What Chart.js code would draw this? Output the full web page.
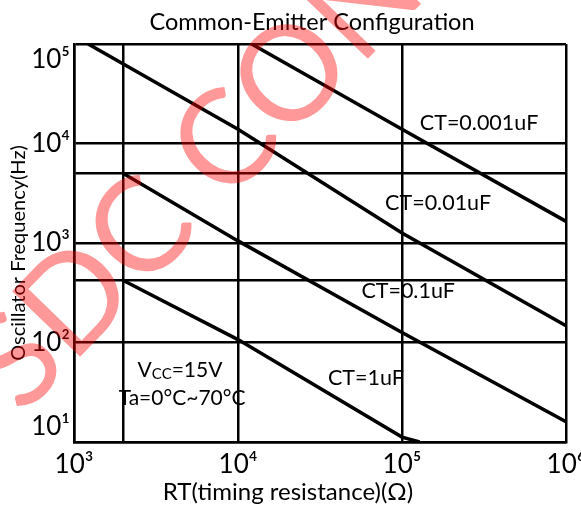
<!DOCTYPE html>
<html><head><meta charset="utf-8">
<script src="https://cdn.jsdelivr.net/npm/chart.js@4.4.1/dist/chart.umd.min.js"></script>
<style>html,body{margin:0;padding:0;background:#fff;}#wrap{width:581px;height:507px;}</style>
</head><body><div id="wrap"><canvas id="c" width="581" height="507"></canvas></div>
<script>
// ---- data ----
const chartTitle = 'Common-Emitter Configuration';
const xTitle = 'RT(timing resistance)(Ω)';
const yTitle = 'Oscillator Frequency(Hz)';
const xGridValues = [1000, 2000, 10000, 100000, 1000000];
const yGridValues = [10, 100, 420, 1000, 5000, 10000, 100000];
const xTickLabels = {1000: '10³', 10000: '10⁴', 100000: '10⁵', 1000000: '10⁶'};
const yTickLabels = {10: '10¹', 100: '10²', 1000: '10³', 10000: '10⁴', 100000: '10⁵'};
const seriesNames = ['CT=0.001uF', 'CT=0.01uF', 'CT=0.1uF', 'CT=1uF'];
const ct0001RT = [12100, 100000, 1000000];
const ct0001F  = [100000, 13900, 1650];
const ct001RT  = [1220, 10000, 100000, 1000000];
const ct001F   = [100000, 13900, 1260, 147];
const ct01RT   = [2000, 10000, 100000, 1000000];
const ct01F    = [5000, 1050, 126, 16];
const ct1RT    = [2000, 10000, 100000, 128000];
const ct1F     = [420, 107, 11.2, 10];
const condVcc = ['V', 'CC', '=15V'];
const condTa = 'Ta=0°C~70°C';
const watermark = 'SDC CONFIDENTIAL';

const seriesRT = [ct0001RT, ct001RT, ct01RT, ct1RT];
const seriesF = [ct0001F, ct001F, ct01F, ct1F];

const FONT = 'Lato, "Noto Sans", "DejaVu Sans", sans-serif';

// label anchors (data coordinates)
const labelAnchors = [
  {i: 0, x: 2.95e5, y: 16070},
  {i: 1, x: 1.66e5, y: 2520},
  {i: 2, x: 1.09e5, y: 330},
  {i: 3, x: 6.03e4, y: 44}
];
const condAnchor = {x: 4430, y: 53};
const taAnchor = {x: 4560, y: 27.7};

const datasets = seriesNames.map((name, k) => ({
  label: name,
  data: seriesRT[k].map((x, j) => ({x: x, y: seriesF[k][j]})),
  borderColor: '#000',
  borderWidth: 3.5,
  pointRadius: 0,
  tension: 0,
  fill: false
}));

const textPlugin = {
  id: 'texts',
  afterDraw(chart) {
    const c = chart.ctx;
    const xs = chart.scales.x, ys = chart.scales.y;
    c.save();
    c.fillStyle = '#000';
    c.textAlign = 'center';
    c.textBaseline = 'middle';
    c.font = '23.5px ' + FONT;
    c.fillText(chartTitle, 312, 22);
    c.font = '24px ' + FONT;
    c.fillText(xTitle, 288, 492);
    c.save();
    c.translate(19, 253);
    c.rotate(-Math.PI / 2);
    c.font = '20px ' + FONT;
    c.fillText(yTitle, 0, 0);
    c.restore();
    c.font = '21.5px ' + FONT;
    labelAnchors.forEach(a => {
      c.fillText(seriesNames[a.i], xs.getPixelForValue(a.x), ys.getPixelForValue(a.y));
    });
    // Vcc with subscript
    const big = '21px ' + FONT, small = '15px ' + FONT;
    c.font = big; const w1 = c.measureText(condVcc[0]).width; const w3 = c.measureText(condVcc[2]).width;
    c.font = small; const w2 = c.measureText(condVcc[1]).width;
    const cx = xs.getPixelForValue(condAnchor.x), cy = ys.getPixelForValue(condAnchor.y);
    let x0 = cx - (w1 + w2 + w3) / 2;
    c.textAlign = 'left';
    c.font = big; c.fillText(condVcc[0], x0, cy);
    c.font = small; c.fillText(condVcc[1], x0 + w1, cy + 4);
    c.font = big; c.fillText(condVcc[2], x0 + w1 + w2, cy);
    c.textAlign = 'center';
    c.fillText(condTa, xs.getPixelForValue(taAnchor.x), ys.getPixelForValue(taAnchor.y));
    // watermark
    c.translate(22, 417);
    c.rotate(-46 * Math.PI / 180);
    c.font = '132px ' + FONT;
    c.fillStyle = 'rgba(255,0,0,0.4)';
    c.textAlign = 'left';
    c.textBaseline = 'alphabetic';
    c.fillText(watermark, 0, 0);
    c.restore();
  }
};

function yLabel(v) {
  const t = yTickLabels[v];
  if (!t) return '';
  if (v === 100000) return ['', t];
  if (v === 10) return [t, ''];
  return t;
}

new Chart(document.getElementById('c'), {
  type: 'line',
  data: {datasets: datasets},
  options: {
    responsive: false,
    animation: false,
    devicePixelRatio: 1,
    layout: {padding: {top: 44, right: 15, left: 0, bottom: 0}},
    plugins: {legend: {display: false}, tooltip: {enabled: false}, title: {display: false}},
    scales: {
      x: {
        type: 'logarithmic', min: 1000, max: 1000000,
        afterBuildTicks: s => { s.ticks = xGridValues.map(v => ({value: v})); },
        afterFit: s => { s.height = 65; s.paddingLeft = 0; s.paddingRight = 0; },
        grid: {color: '#000', lineWidth: 2.5, drawTicks: false},
        border: {display: true, color: '#000', width: 2.5},
        ticks: {callback: v => xTickLabels[v] || '', color: '#000', font: {family: FONT, size: 26}, padding: 7, maxRotation: 0, autoSkip: false}
      },
      y: {
        type: 'logarithmic', min: 10, max: 100000,
        afterBuildTicks: s => { s.ticks = yGridValues.map(v => ({value: v})); },
        afterFit: s => { s.width = 74; s.paddingTop = 0; s.paddingBottom = 0; },
        grid: {color: '#000', lineWidth: 2.5, drawTicks: false},
        border: {display: true, color: '#000', width: 2.5},
        ticks: {callback: yLabel, color: '#000', font: {family: FONT, size: 26, lineHeight: 1.2}, padding: 4, autoSkip: false}
      }
    }
  },
  plugins: [textPlugin]
});
</script>
</body></html>
